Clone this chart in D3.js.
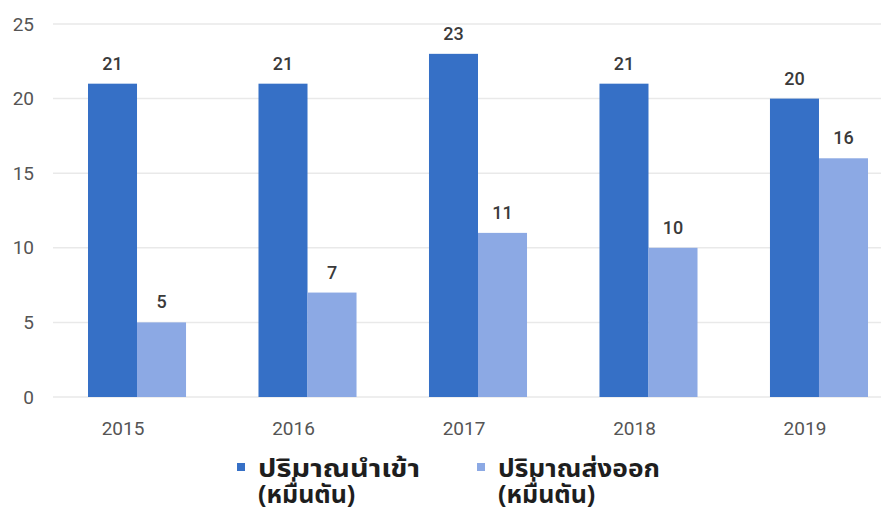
<!DOCTYPE html>
<html lang="th">
<head>
    <meta charset="UTF-8">
    <title>ปริมาณนำเข้า / ส่งออก</title>
    <script src="https://cdn.jsdelivr.net/npm/d3@7"></script>
    <style>
        body {
            margin: 0;
            background-color: #fff;
        }

        svg {
            display: block;
        }

        .tick-label {
            font-family: Roboto, "Liberation Sans", Arial, sans-serif;
            font-size: 19px;
            fill: #555;
        }

        .value-label {
            font-family: Roboto, "Liberation Sans", Arial, sans-serif;
            font-size: 18px;
            font-weight: 500;
            fill: #3a3a3a;
        }

        .legend-text {
            font-family: Tahoma, "Noto Sans Thai", "Noto Sans", sans-serif;
            font-size: 25px;
            font-weight: bold;
            fill: #1e1e1e;
        }
    </style>
</head>
<body>
    <script>
        const years = ['2015', '2016', '2017', '2018', '2019'];
        const imports = [21, 21, 23, 21, 20];
        const exports = [5, 7, 11, 10, 16];
        const yTicks = [0, 5, 10, 15, 20, 25];
        const seriesNames = [['ปริมาณนำเข้า', '(หมื่นตัน)'], ['ปริมาณส่งออก', '(หมื่นตัน)']];
        const colors = ['#3670c6', '#8ca9e4'];

        const w = 881;
        const h = 514;

        const svg = d3.select('body')
            .append('svg')
            .attr('width', w)
            .attr('height', h);

        const x = d3.scaleBand()
            .domain(years)
            .range([88, 868])
            .paddingInner(0.425)
            .paddingOuter(0);

        const xInner = d3.scaleBand()
            .domain([0, 1])
            .range([0, x.bandwidth()]);

        const y = d3.scaleLinear()
            .domain([0, 25])
            .range([397, 24]);

        // gridlines + y labels
        const grid = svg.append('g');
        grid.selectAll('line')
            .data(yTicks)
            .enter()
            .append('line')
            .attr('x1', 53)
            .attr('x2', w)
            .attr('y1', d => y(d))
            .attr('y2', d => y(d))
            .attr('stroke', '#e9e9e9')
            .attr('stroke-width', 1.5);

        grid.selectAll('text')
            .data(yTicks)
            .enter()
            .append('text')
            .attr('class', 'tick-label')
            .attr('x', 34)
            .attr('y', d => y(d))
            .attr('dy', '0.35em')
            .attr('text-anchor', 'end')
            .text(d => d);

        // x labels
        svg.append('g')
            .selectAll('text')
            .data(years)
            .enter()
            .append('text')
            .attr('class', 'tick-label')
            .attr('x', d => x(d) + x.bandwidth() / 2 - 14)
            .attr('y', 428)
            .attr('dy', '0.35em')
            .attr('text-anchor', 'middle')
            .text(d => d);

        const rows = years.map((yr, i) => ({ year: yr, values: [imports[i], exports[i]] }));

        const groups = svg.selectAll('.grp')
            .data(rows)
            .enter()
            .append('g')
            .attr('class', 'grp')
            .attr('transform', d => `translate(${x(d.year)},0)`);

        groups.selectAll('rect')
            .data(d => d.values)
            .enter()
            .append('rect')
            .attr('x', (d, i) => xInner(i))
            .attr('y', d => y(d))
            .attr('width', xInner.bandwidth())
            .attr('height', d => y(0) - y(d))
            .attr('fill', (d, i) => colors[i]);

        groups.selectAll('text')
            .data(d => d.values)
            .enter()
            .append('text')
            .attr('class', 'value-label')
            .attr('x', (d, i) => xInner(i) + xInner.bandwidth() / 2)
            .attr('y', d => y(d) - 14)
            .attr('text-anchor', 'middle')
            .text(d => d);

        // legend
        const legendX = [237, 477];
        const legend = svg.selectAll('.legend')
            .data(seriesNames)
            .enter()
            .append('g')
            .attr('class', 'legend')
            .attr('transform', (d, i) => `translate(${legendX[i]},0)`);

        legend.append('rect')
            .attr('x', 0)
            .attr('y', 463)
            .attr('width', 8)
            .attr('height', 8)
            .attr('fill', (d, i) => colors[i]);

        // the reference font is wider, stretch the first line a bit
        legend.append('text')
            .attr('class', 'legend-text')
            .attr('x', 21)
            .attr('y', 477)
            .attr('textLength', 162)
            .attr('lengthAdjust', 'spacingAndGlyphs')
            .text(d => d[0]);

        legend.append('text')
            .attr('class', 'legend-text')
            .attr('x', 21)
            .attr('y', 503)
            .text(d => d[1]);
    </script>
</body>
</html>
